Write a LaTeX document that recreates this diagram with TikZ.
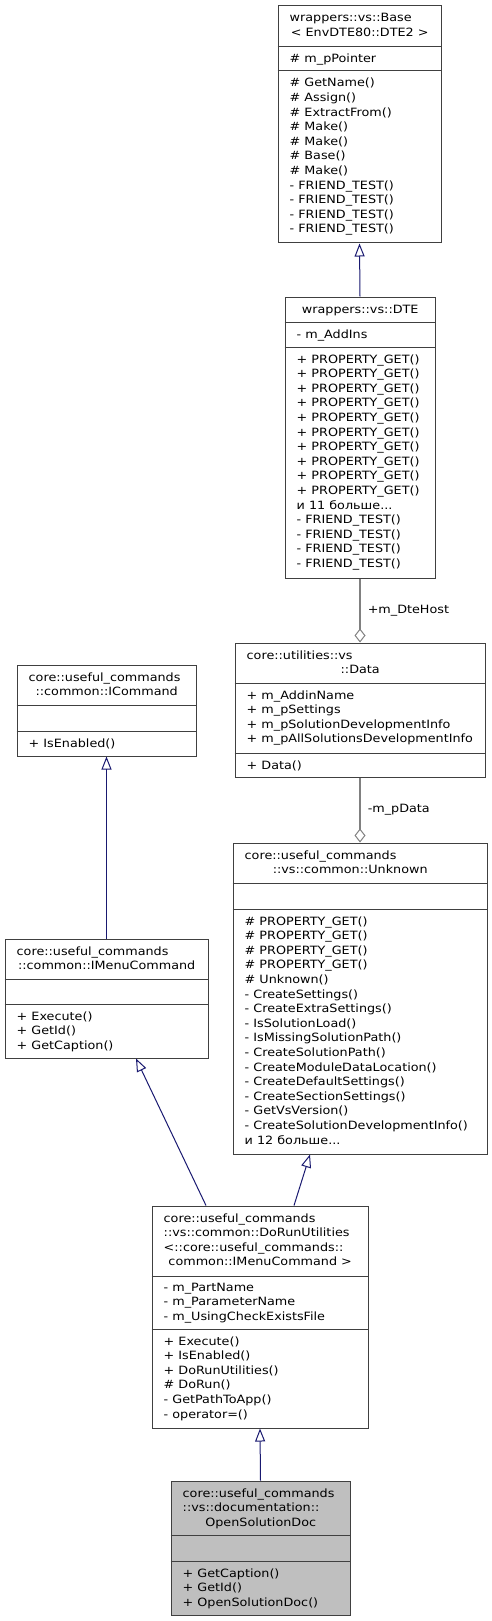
\documentclass[tikz,border=0pt]{standalone}
\usepackage{fontspec}
\setmainfont{DejaVu Sans}[FakeStretch=1.12]
\usetikzlibrary{arrows.meta,calc}

\definecolor{boxgray}{RGB}{64,64,64}
\definecolor{edgegray}{RGB}{128,128,128}
\definecolor{edgeblue}{RGB}{25,25,112}
\definecolor{leafgray}{RGB}{191,191,191}

\newcommand{\umlfont}{\fontsize{11.4}{14.6}\selectfont}
\newcommand{\classtitle}[3]{\parbox[t]{#1}{\raggedright\hyphenpenalty=10000 #2\par\noindent\makebox[#1][c]{#3}}}
\newcommand{\memberlist}[1]{\parbox[t]{240pt}{\raggedright\hyphenpenalty=10000 #1}}

\tikzset{
  classbox/.style={draw=boxgray, line width=1pt, fill=white, inner sep=0pt},
  umltext/.style={anchor=base west, inner sep=0pt, font=\umlfont},
  sepline/.style={draw=boxgray, line width=1pt},
  inherit/.style={draw=edgeblue, line width=1pt, -{Triangle[open, length=13pt, width=10pt]}},
  aggregate/.style={draw=edgegray, line width=1.5pt, -{Diamond[open, length=14pt, width=11pt, line width=1pt]}},
  rolelabel/.style={anchor=west, inner sep=0pt, xshift=7pt, font=\umlfont},
}

\begin{document}
\begin{tikzpicture}[x=1pt, y=-1pt]
  \useasboundingbox (0,0) rectangle (492,1621);

  % class boxes
  \node[classbox, minimum width=163pt, minimum height=237pt] (base) at (359.5,124.5) {};
  \node[classbox, minimum width=150pt, minimum height=281pt] (dte) at (360,437.5) {};
  \node[classbox, minimum width=250pt, minimum height=134pt] (data) at (360,710) {};
  \node[classbox, minimum width=254pt, minimum height=311pt] (unknown) at (360,998.5) {};
  \node[classbox, minimum width=179pt, minimum height=91pt] (icommand) at (106.5,710.5) {};
  \node[classbox, minimum width=203pt, minimum height=119pt] (imenu) at (106.5,998.5) {};
  \node[classbox, minimum width=216pt, minimum height=222pt] (dorun) at (260,1317) {};
  \node[classbox, fill=leafgray, minimum width=179pt, minimum height=134pt] (opendoc) at (260.5,1548) {};

  % compartments
  \draw[sepline] (base.west |- 0,47) -- (base.east |- 0,47);
  \draw[sepline] (base.west |- 0,71) -- (base.east |- 0,71);
  \draw[sepline] (dte.west |- 0,322) -- (dte.east |- 0,322);
  \draw[sepline] (dte.west |- 0,347) -- (dte.east |- 0,347);
  \draw[sepline] (data.west |- 0,683) -- (data.east |- 0,683);
  \draw[sepline] (data.west |- 0,753) -- (data.east |- 0,753);
  \draw[sepline] (unknown.west |- 0,883) -- (unknown.east |- 0,883);
  \draw[sepline] (unknown.west |- 0,909) -- (unknown.east |- 0,909);
  \draw[sepline] (icommand.west |- 0,705) -- (icommand.east |- 0,705);
  \draw[sepline] (icommand.west |- 0,731) -- (icommand.east |- 0,731);
  \draw[sepline] (imenu.west |- 0,979) -- (imenu.east |- 0,979);
  \draw[sepline] (imenu.west |- 0,1004) -- (imenu.east |- 0,1004);
  \draw[sepline] (dorun.west |- 0,1276) -- (dorun.east |- 0,1276);
  \draw[sepline] (dorun.west |- 0,1329) -- (dorun.east |- 0,1329);
  \draw[sepline] (opendoc.west |- 0,1535) -- (opendoc.east |- 0,1535);
  \draw[sepline] (opendoc.west |- 0,1561) -- (opendoc.east |- 0,1561);

  % wrappers::vs::Base
  \node[umltext] (basetitle) at (289.5,22) {\classtitle{140pt}{wrappers::vs::Base}{< EnvDTE80::DTE2 >}};
  \node[umltext] (baseattr) at (289.5,63) {\memberlist{\# m\_pPointer}};
  \node[umltext] (baseops) at (289.5,87) {\memberlist{\# GetName()\\ \# Assign()\\ \# ExtractFrom()\\ \# Make()\\ \# Make()\\ \# Base()\\ \# Make()\\ - FRIEND\_TEST()\\ - FRIEND\_TEST()\\ - FRIEND\_TEST()\\ - FRIEND\_TEST()}};

  % wrappers::vs::DTE
  \node[umltext] (dtetitle) at (296.5,313) {\classtitle{127pt}{}{wrappers::vs::DTE}};
  \node[umltext] (dteattr) at (296.5,338) {\memberlist{- m\_AddIns}};
  \node[umltext] (dteops) at (296.5,363) {\memberlist{+ PROPERTY\_GET()\\ + PROPERTY\_GET()\\ + PROPERTY\_GET()\\ + PROPERTY\_GET()\\ + PROPERTY\_GET()\\ + PROPERTY\_GET()\\ + PROPERTY\_GET()\\ + PROPERTY\_GET()\\ + PROPERTY\_GET()\\ + PROPERTY\_GET()\\ и 11 больше...\\ - FRIEND\_TEST()\\ - FRIEND\_TEST()\\ - FRIEND\_TEST()\\ - FRIEND\_TEST()}};

  % core::utilities::vs::Data
  \node[umltext] (datatitle) at (246.5,659) {\classtitle{227pt}{core::utilities::vs}{::Data}};
  \node[umltext] (dataattr) at (246.5,699) {\memberlist{+ m\_AddinName\\ + m\_pSettings\\ + m\_pSolutionDevelopmentInfo\\ + m\_pAllSolutionsDevelopmentInfo}};
  \node[umltext] (dataops) at (246.5,769) {\memberlist{+ Data()}};

  % core::useful_commands::vs::common::Unknown
  \node[umltext] (unknowntitle) at (244.5,859) {\classtitle{211pt}{core::useful\_commands}{::vs::common::Unknown}};
  \node[umltext] (unknownops) at (244.5,925) {\memberlist{\# PROPERTY\_GET()\\ \# PROPERTY\_GET()\\ \# PROPERTY\_GET()\\ \# PROPERTY\_GET()\\ \# Unknown()\\ - CreateSettings()\\ - CreateExtraSettings()\\ - IsSolutionLoad()\\ - IsMissingSolutionPath()\\ - CreateSolutionPath()\\ - CreateModuleDataLocation()\\ - CreateDefaultSettings()\\ - CreateSectionSettings()\\ - GetVsVersion()\\ - CreateSolutionDevelopmentInfo()\\ и 12 больше...}};

  % core::useful_commands::common::ICommand
  \node[umltext] (icommandtitle) at (28.5,681) {\classtitle{156pt}{core::useful\_commands}{::common::ICommand}};
  \node[umltext] (icommandops) at (28.5,747) {\memberlist{+ IsEnabled()}};

  % core::useful_commands::common::IMenuCommand
  \node[umltext] (imenutitle) at (16.5,955) {\classtitle{180pt}{core::useful\_commands}{::common::IMenuCommand}};
  \node[umltext] (imenuops) at (16.5,1020) {\memberlist{+ Execute()\\ + GetId()\\ + GetCaption()}};

  % core::useful_commands::vs::common::DoRunUtilities
  \node[umltext] (doruntitle) at (163.5,1222) {\classtitle{193pt}{core::useful\_commands\\ ::vs::common::DoRunUtilities\\ <::core::useful\_commands::}{common::IMenuCommand >}};
  \node[umltext] (dorunattr) at (163.5,1291) {\memberlist{- m\_PartName\\ - m\_ParameterName\\ - m\_UsingCheckExistsFile}};
  \node[umltext] (dorunops) at (163.5,1345) {\memberlist{+ Execute()\\ + IsEnabled()\\ + DoRunUtilities()\\ \# DoRun()\\ - GetPathToApp()\\ - operator=()}};

  % core::useful_commands::vs::documentation::OpenSolutionDoc
  \node[umltext] (opendoctitle) at (182.5,1497) {\classtitle{156pt}{core::useful\_commands\\ ::vs::documentation::}{OpenSolutionDoc}};
  \node[umltext] (opendocops) at (182.5,1577) {\memberlist{+ GetCaption()\\ + GetId()\\ + OpenSolutionDoc()}};

  % relations
  \draw[inherit] (dte.north) -- (base.south);
  \draw[aggregate] (dte.south) -- node[rolelabel] {+m\_DteHost} (data.north);
  \draw[aggregate] (data.south) -- node[rolelabel] {-m\_pData} (unknown.north);
  \draw[inherit] (imenu.north) -- (icommand.south);
  \draw[inherit] ([xshift=-54pt]dorun.north) -- ([xshift=29.5pt]imenu.south);
  \draw[inherit] ([xshift=34pt]dorun.north) -- ([xshift=-50pt]unknown.south);
  \draw[inherit] (opendoc.north) -- (dorun.south);
\end{tikzpicture}
\end{document}
